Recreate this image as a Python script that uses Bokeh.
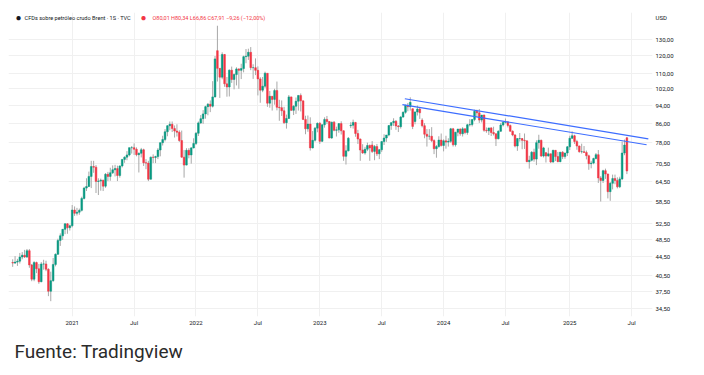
import pandas as pd
from bokeh.plotting import figure
from bokeh.models import Range1d, FixedTicker, CustomJSTickFormatter, Label, ColumnDataSource, Title
from bokeh.embed import file_html
from bokeh.resources import INLINE

# ---------------- data (weekly candles, Brent CFD, TVC) ----------------
first_week = "2020-07-13"

open_2020 = [43.2, 43.1, 43.3, 43.5, 44.4, 44.8, 44.4, 45.8, 42.7, 39.8, 43.2, 41.9, 39.3, 42.9, 42.9, 41.8, 37.5, 39.5, 42.8, 45.0, 48.2, 49.3, 50.9, 52.3, 51.3]
high_2020 = [43.9, 44.6, 44.0, 45.3, 45.5, 46.0, 46.2, 46.2, 42.9, 43.5, 43.4, 42.9, 43.3, 43.8, 43.6, 42.0, 41.3, 44.2, 45.2, 48.6, 49.9, 51.0, 52.5, 52.5, 52.1]
low_2020 = [42.3, 42.9, 42.5, 43.0, 43.9, 44.2, 44.2, 42.1, 39.4, 39.4, 41.0, 38.9, 39.2, 41.7, 41.4, 36.6, 35.7, 39.3, 42.4, 44.9, 46.9, 48.3, 49.7, 49.8, 50.6]
close_2020 = [43.1, 43.3, 43.5, 44.4, 44.8, 44.4, 45.8, 42.7, 39.8, 43.2, 41.9, 39.3, 42.9, 42.9, 41.8, 37.5, 39.5, 42.8, 45.0, 48.2, 49.3, 50.9, 52.3, 51.3, 51.8]

open_2021 = [51.8, 56.0, 55.1, 55.4, 55.9, 59.3, 62.4, 62.9, 66.1, 69.4, 69.2, 64.5, 64.6, 64.9, 63.0, 66.8, 66.1, 67.3, 68.3, 68.7, 66.4, 69.6, 71.9, 72.7, 73.5, 76.2, 76.2, 75.6, 73.6, 74.1, 75.4, 70.7, 70.6, 65.2, 72.7, 72.6, 72.9, 75.3, 78.1, 79.3, 82.4, 84.9, 85.5, 83.7, 82.7, 82.2, 78.9, 72.7, 69.9, 75.2, 73.5, 76.1]
high_2021 = [57.4, 57.0, 56.6, 56.4, 59.8, 62.8, 65.5, 67.7, 71.4, 71.4, 69.9, 65.5, 65.4, 65.0, 67.2, 67.6, 69.0, 69.8, 70.0, 69.7, 69.8, 72.0, 73.0, 74.9, 76.2, 76.8, 77.8, 76.3, 74.4, 76.1, 75.8, 72.0, 71.4, 72.9, 73.7, 73.2, 76.0, 78.1, 80.8, 83.5, 85.1, 86.7, 86.7, 85.0, 85.5, 83.0, 82.9, 75.3, 76.0, 76.0, 76.4, 79.8]
low_2021 = [51.4, 54.4, 54.5, 54.7, 55.6, 59.0, 61.5, 62.7, 62.4, 67.3, 60.9, 60.3, 61.6, 61.5, 62.5, 64.6, 64.7, 66.9, 66.1, 64.6, 65.7, 69.1, 70.7, 71.6, 73.0, 74.0, 73.5, 73.0, 67.4, 72.6, 69.6, 68.5, 64.6, 65.1, 70.6, 70.6, 72.0, 73.0, 77.0, 78.6, 80.6, 83.0, 82.3, 80.1, 80.5, 78.4, 72.5, 65.7, 69.8, 72.3, 70.4, 75.9]
close_2021 = [56.0, 55.1, 55.4, 55.9, 59.3, 62.4, 62.9, 66.1, 69.4, 69.2, 64.5, 64.6, 64.9, 63.0, 66.8, 66.1, 67.3, 68.3, 68.7, 66.4, 69.6, 71.9, 72.7, 73.5, 76.2, 76.2, 75.6, 73.6, 74.1, 75.4, 70.7, 70.6, 65.2, 72.7, 72.6, 72.9, 75.3, 78.1, 79.3, 82.4, 84.9, 85.5, 83.7, 82.7, 82.2, 78.9, 72.7, 69.9, 75.2, 73.5, 76.1, 77.8]

open_2022 = [77.8, 81.8, 86.1, 87.9, 90.0, 93.3, 94.4, 93.5, 97.9, 123.0, 112.7, 107.9, 120.7, 104.4, 102.8, 111.7, 106.7, 109.3, 112.4, 111.6, 112.6, 119.4, 119.7, 122.0, 113.1, 113.1, 111.6, 107.0, 101.2, 103.2, 110.0, 94.9, 98.2, 96.7, 101.0, 93.0, 92.8, 91.4, 86.2, 88.0, 97.9, 91.6, 93.5, 95.8, 98.6, 96.0, 87.6, 83.6, 85.6, 76.1, 79.0, 83.9]
high_2022 = [82.3, 86.7, 89.5, 91.7, 93.7, 95.0, 96.2, 105.8, 119.8, 139.1, 112.9, 122.0, 121.0, 108.0, 112.1, 113.7, 109.9, 113.3, 112.7, 115.3, 120.0, 124.0, 124.2, 125.2, 115.0, 118.4, 113.8, 107.9, 108.0, 110.9, 110.0, 100.8, 98.2, 101.9, 105.6, 96.5, 96.2, 93.2, 89.7, 98.8, 98.0, 94.0, 97.6, 98.7, 99.6, 96.1, 89.2, 89.3, 88.5, 82.7, 84.4, 86.3]
low_2022 = [77.2, 80.7, 85.6, 85.7, 87.9, 89.4, 90.8, 92.9, 97.6, 105.6, 97.4, 106.8, 102.9, 98.0, 98.1, 104.9, 101.6, 103.6, 101.9, 106.9, 110.5, 115.6, 117.5, 111.7, 107.0, 109.0, 98.6, 95.1, 100.2, 102.2, 93.2, 92.8, 91.5, 94.2, 91.6, 87.0, 89.1, 85.6, 83.7, 87.9, 91.3, 89.5, 90.0, 91.5, 91.1, 87.3, 81.4, 82.4, 75.1, 75.9, 78.5, 82.2]
close_2022 = [81.8, 86.1, 87.9, 90.0, 93.3, 94.4, 93.5, 97.9, 118.1, 112.7, 107.9, 120.7, 104.4, 102.8, 111.7, 106.7, 109.3, 112.4, 111.6, 112.6, 119.4, 119.7, 122.0, 113.1, 113.1, 111.6, 107.0, 101.2, 103.2, 110.0, 94.9, 98.2, 96.7, 101.0, 93.0, 92.8, 91.4, 86.2, 88.0, 97.9, 91.6, 93.5, 95.8, 98.6, 96.0, 87.6, 83.6, 85.6, 76.1, 79.0, 83.9, 85.9]

open_2023 = [85.9, 78.6, 85.3, 87.6, 86.7, 79.9, 86.4, 83.0, 83.2, 85.8, 82.8, 73.0, 75.0, 84.9, 85.1, 86.3, 81.7, 79.5, 75.3, 74.2, 75.6, 77.0, 77.2, 74.8, 76.6, 73.9, 75.4, 78.5, 79.9, 81.1, 85.0, 86.2, 86.8, 84.8, 84.5, 88.6, 90.7, 93.9, 93.3, 92.3, 86.7, 90.9, 92.2, 87.3, 84.9, 81.4, 80.6, 80.6, 78.9, 75.8, 76.6, 79.1]
high_2023 = [86.5, 85.5, 88.5, 89.1, 86.9, 86.6, 86.9, 84.5, 85.9, 86.8, 83.0, 77.1, 80.3, 86.4, 87.5, 86.5, 83.2, 79.7, 77.5, 76.5, 78.1, 77.4, 78.7, 77.2, 77.6, 75.7, 78.6, 81.4, 81.1, 85.1, 86.4, 88.1, 87.3, 85.2, 89.1, 91.2, 94.2, 95.0, 97.7, 92.5, 91.0, 93.8, 93.0, 88.1, 86.0, 83.5, 83.5, 84.3, 79.4, 77.2, 80.6, 81.7]
low_2023 = [77.6, 78.4, 84.1, 85.6, 79.8, 79.6, 82.6, 80.5, 82.0, 81.3, 71.4, 70.1, 74.8, 83.9, 83.7, 80.4, 77.6, 71.4, 73.9, 73.6, 74.9, 71.4, 74.2, 71.6, 73.1, 72.0, 74.6, 77.2, 78.4, 80.6, 83.2, 84.8, 83.2, 82.3, 83.7, 88.4, 90.1, 91.2, 91.5, 83.5, 85.5, 89.3, 87.8, 84.2, 79.8, 76.6, 79.2, 78.3, 73.8, 72.5, 76.2, 76.6]
close_2023 = [78.6, 85.3, 87.6, 86.7, 79.9, 86.4, 83.0, 83.2, 85.8, 82.8, 73.0, 75.0, 79.8, 85.1, 86.3, 81.7, 79.5, 75.3, 74.2, 75.6, 77.0, 76.1, 74.8, 76.6, 73.9, 75.4, 78.5, 79.9, 81.1, 85.0, 86.2, 86.8, 84.8, 84.5, 88.6, 90.7, 93.9, 93.3, 95.3, 84.6, 90.9, 92.2, 90.5, 84.9, 81.4, 80.6, 80.6, 78.9, 75.8, 76.6, 79.1, 77.0]

open_2024 = [77.0, 78.8, 78.3, 78.6, 83.6, 77.3, 82.2, 83.5, 81.6, 83.6, 82.1, 85.3, 85.4, 87.5, 91.2, 90.5, 87.3, 89.5, 83.0, 82.8, 84.0, 82.1, 81.6, 79.6, 82.6, 85.2, 86.4, 86.5, 85.0, 82.6, 81.1, 76.8, 79.7, 79.7, 79.0, 78.8, 71.1, 71.6, 74.5, 72.0, 78.1, 79.0, 73.1, 74.3, 73.1, 73.9, 71.0, 75.2, 72.9, 71.1, 74.5, 72.9, 74.2]
high_2024 = [79.4, 80.8, 79.8, 84.0, 84.0, 82.4, 83.6, 83.8, 84.3, 83.8, 85.7, 87.7, 87.6, 91.9, 91.9, 92.2, 89.5, 89.7, 84.2, 84.0, 84.3, 84.5, 81.7, 83.0, 86.1, 86.4, 88.0, 86.9, 85.4, 83.0, 81.5, 79.8, 81.9, 79.9, 81.7, 78.9, 73.2, 74.9, 75.8, 79.0, 81.2, 79.3, 76.5, 74.6, 76.2, 74.0, 75.4, 75.2, 74.6, 74.6, 74.9, 74.3, 76.8]
low_2024 = [74.8, 75.8, 76.6, 78.0, 76.6, 76.6, 80.6, 80.8, 80.5, 81.4, 81.2, 84.6, 84.6, 86.8, 88.9, 86.1, 86.3, 82.4, 82.0, 81.1, 80.7, 80.9, 76.8, 79.4, 82.4, 84.6, 85.8, 84.2, 82.5, 80.6, 76.3, 75.0, 78.5, 75.6, 75.7, 70.9, 68.7, 71.2, 71.1, 69.9, 75.8, 72.8, 72.6, 70.8, 72.9, 70.6, 70.7, 71.3, 70.9, 70.9, 72.0, 72.1, 73.1]
close_2024 = [78.8, 78.3, 78.6, 83.6, 77.3, 82.2, 83.5, 81.6, 83.6, 82.1, 85.3, 85.4, 87.5, 91.2, 90.5, 87.3, 89.5, 83.0, 82.8, 84.0, 82.1, 81.6, 79.6, 82.6, 85.2, 86.4, 86.5, 85.0, 82.6, 81.1, 76.8, 79.7, 79.7, 79.0, 78.8, 71.1, 71.6, 74.5, 72.0, 78.1, 79.0, 73.1, 76.1, 73.1, 73.9, 71.0, 75.2, 72.9, 71.1, 74.5, 72.9, 74.2, 76.5]

open_2025 = [76.5, 79.8, 80.8, 78.5, 76.8, 74.7, 74.7, 74.4, 73.2, 70.4, 70.6, 72.2, 73.6, 65.6, 64.8, 68.0, 66.9, 61.3, 63.9, 65.4, 64.8, 62.8, 65.3, 74.2, 80.01]
high_2025 = [80.8, 82.6, 81.2, 79.2, 77.0, 77.7, 76.8, 75.1, 73.6, 71.4, 72.5, 74.2, 75.3, 66.2, 68.3, 68.7, 67.0, 64.3, 66.7, 66.7, 65.8, 66.0, 78.5, 79.3, 80.34]
low_2025 = [75.3, 79.5, 77.6, 75.4, 74.3, 74.0, 74.3, 71.9, 68.3, 68.8, 70.2, 71.9, 64.0, 58.4, 64.0, 65.3, 59.3, 58.6, 62.0, 63.6, 62.3, 62.4, 64.9, 73.4, 66.86]
close_2025 = [79.8, 80.8, 78.5, 76.8, 74.7, 74.7, 74.4, 73.2, 70.4, 70.6, 72.2, 73.6, 65.6, 64.8, 68.0, 66.9, 61.3, 63.9, 65.4, 64.8, 62.8, 65.3, 74.2, 77.17, 67.91]

# price-scale ticks and time-axis ticks
y_ticks = [34.5, 37.5, 40.5, 44.5, 48.5, 52.5, 58.5, 64.5, 70.5, 78.0, 86.0, 94.0, 102.0, 110.0, 120.0, 130.0]
currency_level = 145.0   # where the currency tag sits on the price scale
x_tick_dates = ["2021-01-04", "2021-07-05", "2022-01-03", "2022-07-04", "2023-01-02",
                "2023-07-03", "2024-01-01", "2024-07-01", "2025-01-06", "2025-07-07"]

# trend lines drawn on the chart (two parallel descending lines)
trend_upper_dates = ["2023-09-09", "2025-08-25"]
trend_upper_prices = [97.0, 79.6]
trend_lower_dates = ["2023-09-02", "2025-08-20"]
trend_lower_prices = [94.2, 77.3]

title_text = "CFDs sobre petróleo crudo Brent · 1S · TVC"
ohlc_text = "O80,01 H80,34 L66,86 C67,91 −9,26 (−12,00%)"
source_text = "Fuente: Tradingview"
currency_text = "USD"

# ---------------- build ----------------
opens = open_2020 + open_2021 + open_2022 + open_2023 + open_2024 + open_2025
highs = high_2020 + high_2021 + high_2022 + high_2023 + high_2024 + high_2025
lows = low_2020 + low_2021 + low_2022 + low_2023 + low_2024 + low_2025
closes = close_2020 + close_2021 + close_2022 + close_2023 + close_2024 + close_2025
dates = pd.date_range(first_week, periods=len(closes), freq="W-MON")

UP = "#089981"
DOWN = "#f23645"
df = pd.DataFrame({"date": dates, "open": opens, "high": highs, "low": lows, "close": closes})
df["top"] = df[["open", "close"]].max(axis=1)
df["bottom"] = df[["open", "close"]].min(axis=1)
df["color"] = [UP if c >= o else DOWN for o, c in zip(df["open"], df["close"])]
src = ColumnDataSource(df)

ref = pd.Timestamp("2021-01-04")
x_start = ref - pd.Timedelta(days=187.3)
x_end = ref + pd.Timedelta(days=1706.3)

p = figure(width=696, height=375, x_axis_type="datetime", y_axis_type="log",
           y_axis_location="right", output_backend="svg", toolbar_location=None,
           x_range=Range1d(x_start, x_end), y_range=Range1d(33.1, 148.5),
           min_border_left=8, min_border_top=12, min_border_right=44, min_border_bottom=59)
p.background_fill_color = "white"
p.border_fill_color = "white"
p.outline_line_color = None

week_ms = 7 * 24 * 3600 * 1000
p.segment(x0="date", y0="high", x1="date", y1="low", source=src, color="#a8a8a8", line_width=1)
p.vbar(x="date", width=0.72 * week_ms, top="top", bottom="bottom", source=src,
       fill_color="color", line_color="color", line_width=0.5)

for dts, prs in ((trend_upper_dates, trend_upper_prices), (trend_lower_dates, trend_lower_prices)):
    p.line(x=pd.to_datetime(dts), y=prs, line_color="#3d6dff", line_width=1.2)

# axes
yax = p.yaxis[0]
yax.ticker = FixedTicker(ticks=y_ticks + [currency_level], minor_ticks=[])
yax.formatter = CustomJSTickFormatter(
    args=dict(cur=currency_level, label=currency_text),
    code="return Math.abs(tick - cur) < 0.01 ? label : tick.toFixed(2).replace('.', ',');")
yax.axis_line_color = None
yax.major_tick_line_color = None
yax.minor_tick_line_color = None
yax.major_tick_out = 0
yax.major_tick_in = 0
yax.major_label_standoff = 3
yax.major_label_text_font_size = "6px"
yax.major_label_text_color = "#131722"
yax.major_label_text_font = "Roboto"

xax = p.xaxis[0]
xax.ticker = FixedTicker(ticks=[pd.Timestamp(d).value / 1e6 for d in x_tick_dates], minor_ticks=[])
xax.formatter = CustomJSTickFormatter(
    code="const d = new Date(tick); return d.getUTCMonth() == 0 ? String(d.getUTCFullYear()) : 'Jul';")
xax.axis_line_color = None
xax.major_tick_line_color = None
xax.minor_tick_line_color = None
xax.major_tick_out = 0
xax.major_tick_in = 0
xax.major_label_standoff = 2
xax.major_label_text_font_size = "6px"
xax.major_label_text_color = "#131722"
xax.major_label_text_font = "Roboto"

p.xgrid.grid_line_color = "#f0f0f0"
p.ygrid.ticker = FixedTicker(ticks=y_ticks, minor_ticks=[])
p.ygrid.grid_line_color = "#f0f0f0"

# header inside the chart (screen units relative to the plot frame)
p.add_layout(Label(x=10, y=299, x_units="screen", y_units="screen", text="●",
                   text_font_size="10px", text_color="#131722", text_align="center",
                   text_baseline="middle"))
p.add_layout(Label(x=16, y=299, x_units="screen", y_units="screen", text=title_text,
                   text_font="Roboto", text_font_size="5.6px", text_color="#131722",
                   text_baseline="middle"))
p.add_layout(Label(x=135, y=299, x_units="screen", y_units="screen", text="●",
                   text_font_size="10px", text_color=DOWN, text_align="center",
                   text_baseline="middle"))
p.add_layout(Label(x=144, y=299, x_units="screen", y_units="screen", text=ohlc_text,
                   text_font="Roboto", text_font_size="5.5px", text_color=DOWN,
                   text_baseline="middle"))

# source note under the chart
src_title = Title(text=source_text, align="left", offset=6, standoff=18,
                  text_font="Roboto", text_font_size="19px", text_font_style="normal",
                  text_color="#2b2b2b")
p.add_layout(src_title, "below")

open("out.html", "w").write(file_html(p, INLINE))
